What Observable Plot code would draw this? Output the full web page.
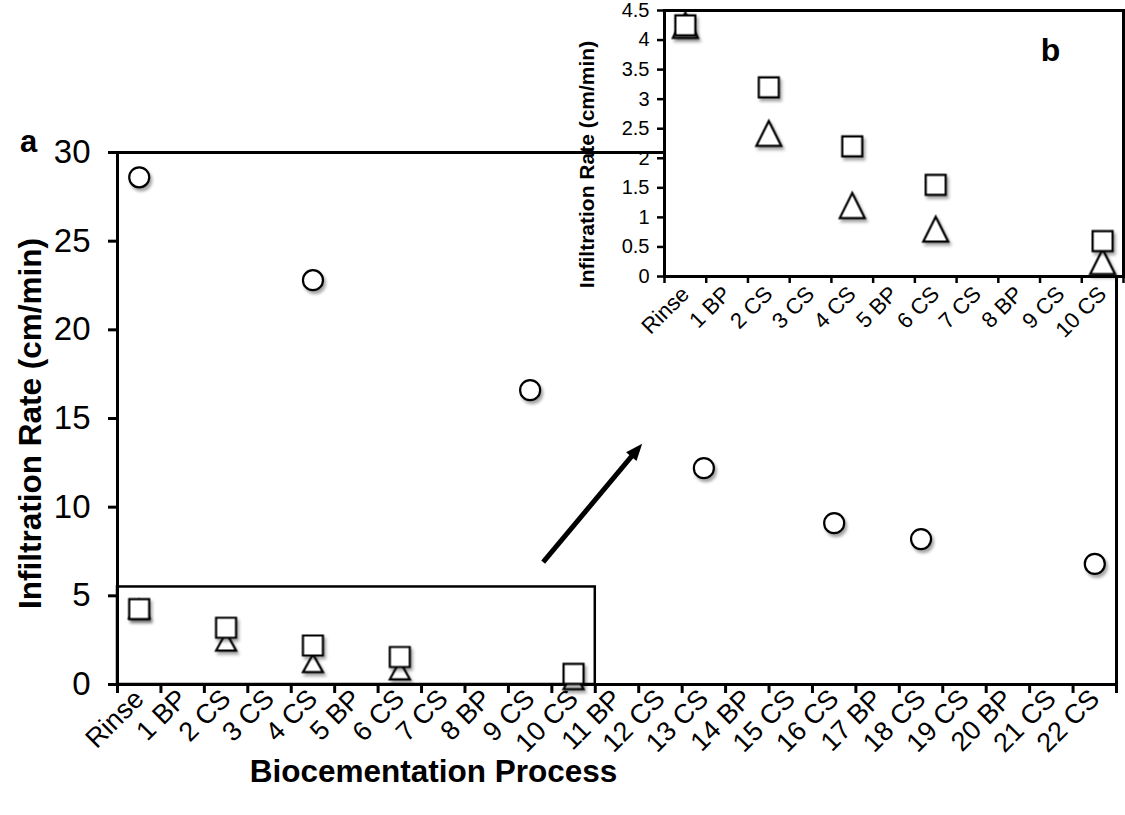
<!DOCTYPE html>
<html><head><meta charset="utf-8">
<script src="https://cdn.jsdelivr.net/npm/d3@7"></script>
<script src="https://cdn.jsdelivr.net/npm/@observablehq/plot@0.6"></script>
<style>
body{margin:0;background:#fff;}
#wrap{position:relative;width:1125px;height:815px;overflow:hidden;background:#fff;}
#wrap svg{position:absolute;top:0;}
</style></head><body><div id="wrap"></div>
<script>
// ---- data ----
const categories = ["Rinse","1 BP","2 CS","3 CS","4 CS","5 BP","6 CS","7 CS","8 BP","9 CS","10 CS","11 BP","12 CS","13 CS","14 BP","15 CS","16 CS","17 BP","18 CS","19 CS","20 BP","21 CS","22 CS"];
const insetCategories = categories.slice(0, 11);
const circleCategories = ["Rinse","4 CS","9 CS","13 CS","16 CS","18 CS","22 CS"];
const circleValues = [28.6, 22.8, 16.6, 12.2, 9.1, 8.2, 6.8];
const squareCategories = ["Rinse","2 CS","4 CS","6 CS","10 CS"];
const squareValues = [4.25, 3.2, 2.2, 1.55, 0.6];
const triangleCategories = ["Rinse","2 CS","4 CS","6 CS","10 CS"];
const triangleValues = [4.25, 2.42, 1.2, 0.8, 0.25];
const mainYTicks = [0, 5, 10, 15, 20, 25, 30];
const insetYTicks = [0, 0.5, 1, 1.5, 2, 2.5, 3, 3.5, 4, 4.5];
const zoomBox = [{from: "Rinse", to: "10 CS", top: 5.5}];
const arrowAnnotation = {x1: 9.8, y1: 6.9, x2: 12.08, y2: 13.58};

// ---- helpers ----
const idx = (cats) => (c) => cats.indexOf(c) + 0.5;
const rows = (cats, vals) => cats.map((c, i) => ({cat: c, value: vals[i]}));
const circles = rows(circleCategories, circleValues);
const squares = rows(squareCategories, squareValues);
const triangles = rows(triangleCategories, triangleValues);

const squareSym = {draw(ctx, size) { const r = Math.sqrt(size / Math.PI); ctx.rect(-r, -r, 2 * r, 2 * r); }};
const triSym = (k) => ({draw(ctx, size) {
  const r = Math.sqrt(size / Math.PI), h = r * k;
  ctx.moveTo(0, -h); ctx.lineTo(r, h); ctx.lineTo(-r, h); ctx.closePath();
}});
// arrow head: tip at the origin, pointing up before rotation
const headSym = {draw(ctx, size) {
  const r = Math.sqrt(size / Math.PI);
  ctx.moveTo(0, 0); ctx.lineTo(r * 0.8, r * 2); ctx.lineTo(-r * 0.8, r * 2); ctx.closePath();
}};
const shadow = "drop-shadow(2px 3px 1.5px rgba(0,0,0,0.35))";
const font = "'Liberation Sans', Arial, Helvetica, sans-serif";
const markStyle = {fill: "white", stroke: "black", strokeWidth: 2.2, imageFilter: shadow};

// ---- main chart (a) ----
const W = 1125, H = 815, mL = 117, mR = 9, mT = 152, mB = 131;
const yMax = 30;
const kx = (W - mL - mR) / categories.length, ky = (H - mT - mB) / yMax;
const pdx = (arrowAnnotation.x2 - arrowAnnotation.x1) * kx, pdy = (arrowAnnotation.y2 - arrowAnnotation.y1) * ky;
const arrowAngle = Math.atan2(pdx, pdy) * 180 / Math.PI;
const shaftT = 1 - 13 / Math.hypot(pdx, pdy);
const arrowShaft = [{
  x1: arrowAnnotation.x1, y1: arrowAnnotation.y1,
  x2: arrowAnnotation.x1 + (arrowAnnotation.x2 - arrowAnnotation.x1) * shaftT,
  y2: arrowAnnotation.y1 + (arrowAnnotation.y2 - arrowAnnotation.y1) * shaftT
}];
const arrowHead = [{x: arrowAnnotation.x2, y: arrowAnnotation.y2}];

const mainPos = idx(categories);
const centered = {textAnchor: "middle", lineAnchor: "middle", fontWeight: "bold"};
const main = Plot.plot({
  width: W, height: H,
  marginLeft: mL, marginRight: mR, marginTop: mT, marginBottom: mB,
  style: {fontFamily: font, background: "transparent", color: "#000"},
  x: {type: "linear", domain: [0, categories.length]},
  y: {domain: [0, yMax]},
  marks: [
    Plot.ruleY([yMax], {stroke: "#000", strokeWidth: 3}),
    Plot.ruleX([categories.length], {stroke: "#000", strokeWidth: 3}),
    Plot.rect(zoomBox, {x1: d => categories.indexOf(d.from), x2: d => categories.indexOf(d.to) + 1, y1: 0, y2: d => d.top, fill: "none", stroke: "#000", strokeWidth: 2.5}),
    Plot.link(arrowShaft, {x1: "x1", y1: "y1", x2: "x2", y2: "y2", stroke: "#000", strokeWidth: 5}),
    Plot.dot(arrowHead, {x: "x", y: "y", r: 8.5, symbol: headSym, rotate: arrowAngle, fill: "#000", stroke: "none"}),
    Plot.axisY({ticks: mainYTicks, tickSize: 9, tickPadding: 18, fontSize: 33, strokeWidth: 3, label: null}),
    Plot.ruleX([0], {stroke: "#000", strokeWidth: 3}),
    Plot.ruleY([0], {stroke: "#000", strokeWidth: 3}),
    Plot.axisX({ticks: d3.range(categories.length + 1), tickFormat: () => "", tickSize: 9, strokeWidth: 3, label: null}),
    Plot.axisX({ticks: categories.map((c, i) => i + 0.5), tickFormat: v => categories[Math.round(v - 0.5)], tickSize: 0, tickRotate: -45, tickPadding: 10, fontSize: 27, label: null}),
    Plot.dot(triangles, {x: d => mainPos(d.cat), y: "value", r: 10, symbol: triSym(0.9), ...markStyle}),
    Plot.dot(squares, {x: d => mainPos(d.cat), y: "value", r: 10, symbol: squareSym, ...markStyle}),
    Plot.dot(circles, {x: d => mainPos(d.cat), y: "value", r: 10, symbol: "circle", ...markStyle}),
    Plot.text(["Infiltration Rate (cm/min)"], {text: d => d, frameAnchor: "left", rotate: -90, dx: -87, dy: 5, fontSize: 31.5, ...centered}),
    Plot.text(["Biocementation Process"], {text: d => d, frameAnchor: "bottom-left", dx: 316, dy: 87, fontSize: 31.5, ...centered}),
    Plot.text(["a"], {text: d => d, frameAnchor: "top-left", dx: -89, dy: -10, fontSize: 31, ...centered})
  ]
});
main.style.left = "0px";
document.getElementById("wrap").appendChild(main);

// ---- inset chart (b) ----
const insetPos = idx(insetCategories);
const inset = Plot.plot({
  width: 565, height: 350,
  marginLeft: 104, marginRight: 2, marginTop: 10, marginBottom: 74,
  style: {fontFamily: font, background: "transparent", color: "#000"},
  x: {type: "linear", domain: [0, insetCategories.length]},
  y: {domain: [0, 4.5]},
  marks: [
    Plot.frame({fill: "white"}),
    Plot.axisY({ticks: insetYTicks, tickFormat: d => String(d), tickSize: 7, tickPadding: 8, fontSize: 20, strokeWidth: 2.5, label: null}),
    Plot.axisX({ticks: d3.range(insetCategories.length + 1), tickFormat: () => "", tickSize: 7, strokeWidth: 2.5, label: null}),
    Plot.axisX({ticks: insetCategories.map((c, i) => i + 0.5), tickFormat: v => insetCategories[Math.round(v - 0.5)], tickSize: 0, tickRotate: -45, tickPadding: 14, fontSize: 22, label: null}),
    Plot.frame({stroke: "#000", strokeWidth: 3}),
    Plot.dot(triangles, {x: d => insetPos(d.cat), y: "value", r: 12.5, symbol: triSym(1.0), ...markStyle}),
    Plot.dot(squares, {x: d => insetPos(d.cat), y: "value", r: 10, symbol: squareSym, ...markStyle}),
    Plot.text(["Infiltration Rate (cm/min)"], {text: d => d, frameAnchor: "left", rotate: -90, dx: -77, dy: 21, fontSize: 21, ...centered}),
    Plot.text(["b"], {text: d => d, frameAnchor: "top-right", dx: -73, dy: 40, fontSize: 32, ...centered})
  ]
});
inset.style.left = "560px";
document.getElementById("wrap").appendChild(inset);
</script>
</body></html>
